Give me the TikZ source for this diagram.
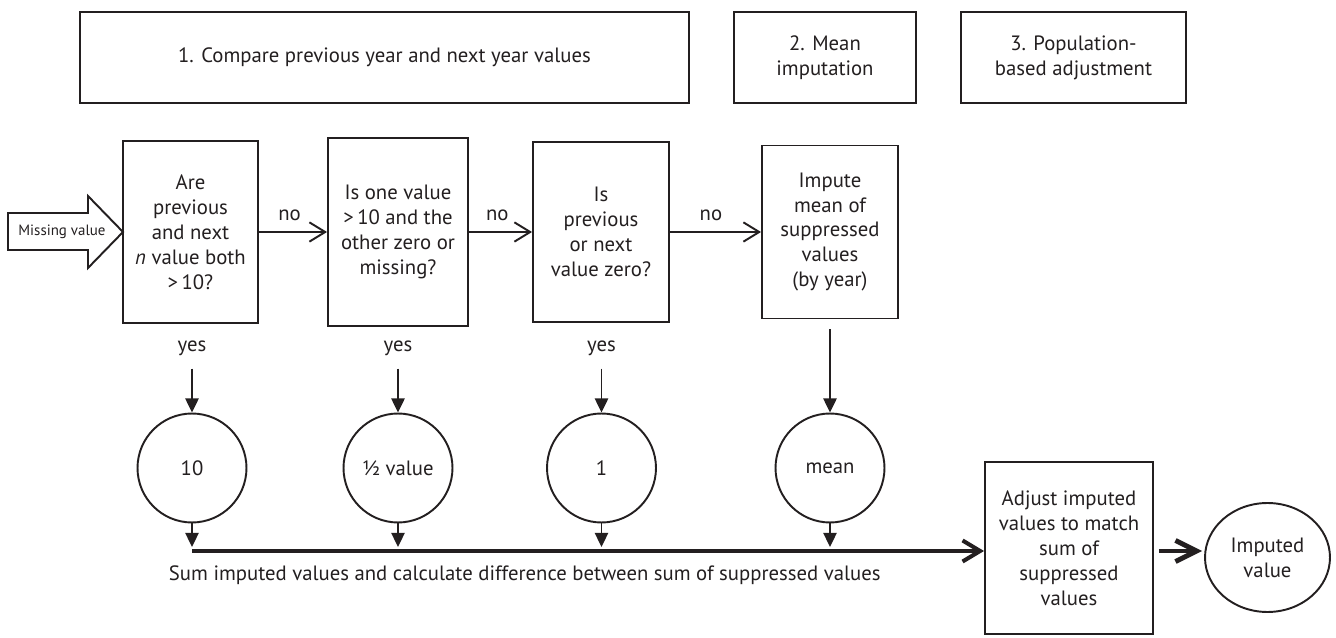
\documentclass[tikz,border=0pt]{standalone}
\usepackage{fontspec}
\setmainfont{PT Sans}
\usetikzlibrary{arrows.meta,shapes.geometric,positioning}
\definecolor{ink}{RGB}{35,31,32}
\tikzset{every picture/.style={line width=1.1pt}}

\begin{document}
\begin{tikzpicture}[x=0.02cm, y=-0.02cm, color=ink,
    txt/.style={font=\fontsize{11.8}{14.2}\selectfont, align=center, inner sep=0pt},
    box/.style={draw, txt},
    circ/.style={draw, circle, txt, minimum size=2.18cm},
    noarr/.style={-{Straight Barb[length=9pt,width=11pt]}},
    downarr/.style={-{Triangle[length=8pt,width=7.5pt]}},
    bararr/.style={line width=2.3pt, -{Straight Barb[length=10pt,width=12pt]}},
    bigarr/.style={line width=2.8pt, -{Straight Barb[length=12pt,width=12pt]}}]
    \useasboundingbox (0,0) rectangle (1336,638);
    % steps
    \node[box, minimum width=12.18cm, minimum height=1.82cm] (step1) at (384.5,57.5) {1. Compare previous year and next year values};
    \node[box, minimum width=3.64cm, minimum height=1.82cm] (step2) at (825,57.5) {2. Mean\\imputation};
    \node[box, minimum width=4.5cm, minimum height=1.82cm] (step3) at (1073.5,57.5) {3. Population-\\based adjustment};
    % missing value
    \draw (8,213) -- (88,213) -- (88,196) -- (123,232) -- (88,268) -- (88,250) -- (8,250) -- cycle;
    \node[txt, font=\fontsize{8.5}{10}\selectfont] (miss) at (62,232) {Missing value};
    % questions
    \node[box, minimum width=2.7cm, minimum height=3.64cm] (qA) at (190.5,232) {Are\\previous\\and next\\\textit{n} value both\\>\,10?};
    \node[box, minimum width=2.8cm, minimum height=3.76cm] (qB) at (398,232) {Is one value\\>\,10 and the\\other zero or\\missing?};
    \node[box, minimum width=2.72cm, minimum height=3.6cm] (qC) at (601,232) {Is\\previous\\or next\\value zero?};
    \node[box, minimum width=2.72cm, minimum height=3.46cm] (qD) at (830,232) {Impute\\mean of\\suppressed\\values\\(by year)};
    \draw[noarr] (qA) -- node[pos=0.45, above=6pt, txt] {no} (qB);
    \draw[noarr] (qB) -- node[pos=0.45, above=6pt, txt] {no} (qC);
    \draw[noarr] (qC) -- node[pos=0.45, above=6pt, txt] {no} (qD);
    % yes
    \node[txt] (yA) at (192,348) {yes};
    \node[txt] (yB) at (398,348) {yes};
    \node[txt] (yC) at (601.5,348) {yes};
    % values
    \node[circ] (cA) at (192,468) {10};
    \node[circ] (cB) at (398,468) {½ value};
    \node[circ] (cC) at (601.5,468) {1};
    \node[circ] (cD) at (830,468) {mean};
    \draw[downarr, shorten <=7pt] (yA) -- (cA);
    \draw[downarr, shorten <=7pt] (yB) -- (cB);
    \draw[downarr, shorten <=7pt] (yC) -- (cC);
    \draw[downarr, shorten <=0.2cm] (qD) -- (cD);
    % sum
    \coordinate (barL) at (192,551);
    \node[box, minimum width=3.36cm, minimum height=3.44cm] (qE) at (1069,548) {Adjust imputed\\values to match\\sum of\\suppressed\\values};
    \draw[downarr, shorten >=0.08cm] (cA) -- (cA |- barL);
    \draw[downarr, shorten >=0.08cm] (cB) -- (cB |- barL);
    \draw[downarr, shorten >=0.08cm] (cC) -- (cC |- barL);
    \draw[downarr, shorten >=0.08cm] (cD) -- (cD |- barL);
    \draw[bararr] (barL) -- (barL -| qE.west);
    \node[txt, anchor=west] (sumtxt) at (168,575) {Sum imputed values and calculate difference between sum of suppressed values};
    % result
    \node[draw, ellipse, txt, minimum width=2.5cm, minimum height=2.18cm] (res) at (1267.5,557.5) {Imputed\\value};
    \draw[bigarr, shorten <=0.1cm, shorten >=0.04cm] (qE.east |- barL) -- (res.west |- barL);
\end{tikzpicture}
\end{document}
